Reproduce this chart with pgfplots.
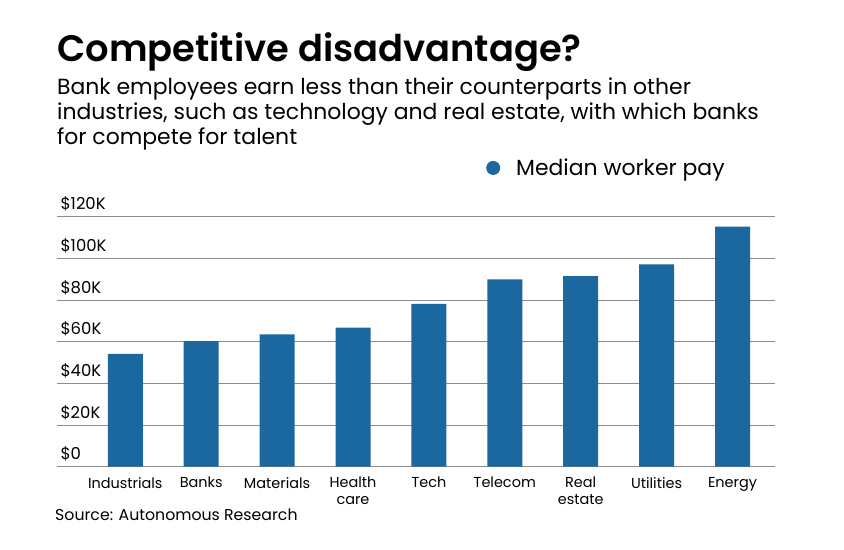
\documentclass[border=0pt]{standalone}
\usepackage{pgfplots}
\pgfplotsset{compat=1.18}
\usepackage{fontspec}
\setmainfont{Poppins}[BoldFont={Poppins SemiBold}]
\definecolor{barblue}{HTML}{1B68A0}
\definecolor{gridgray}{HTML}{8C8C8C}

\begin{document}
\begin{tikzpicture}
\path[use as bounding box] (0bp,0bp) rectangle (844bp,550bp);
% title and subtitle
\node[anchor=base west, inner sep=0pt, font=\fontsize{37}{44}\selectfont\bfseries] at (57bp,488bp) {Competitive disadvantage?};
\node[anchor=base west, inner sep=0pt, font=\fontsize{22}{25}\selectfont] at (57bp,455bp) {Bank employees earn less than their counterparts in other};
\node[anchor=base west, inner sep=0pt, font=\fontsize{22}{25}\selectfont] at (57bp,430bp) {industries, such as technology and real estate, with which banks};
\node[anchor=base west, inner sep=0pt, font=\fontsize{22}{25}\selectfont] at (57bp,405bp) {for compete for talent};

\begin{axis}[
    at={(57bp,83.3bp)}, anchor=south west,
    scale only axis,
    width=718bp, height=250bp,
    ybar, bar width=35bp,
    xmin=-0.9, xmax=8.56,
    ymin=0, ymax=120000,
    axis line style={draw=none},
    major tick length=0pt,
    ymajorgrids,
    grid style={gridgray, line width=1bp},
    ytick={0,20000,40000,60000,80000,100000,120000},
    yticklabels={\$0,\$20K,\$40K,\$60K,\$80K,\$100K,\$120K},
    yticklabel style={anchor=base west, font=\fontsize{16.5}{18}\selectfont, xshift=0bp, yshift=7bp},
    xtick={0,...,8},
    xticklabels={Industrials,Banks,Materials,Health\\care,Tech,Telecom,Real\\estate,Utilities,Energy},
    xticklabel style={font=\fontsize{14.5}{17}\selectfont, align=center, anchor=north, yshift=-7bp},
    scaled y ticks=false,
    legend style={at={(axis description cs:0.5975,1.195)}, anchor=west, draw=none, fill=none,
        inner sep=0pt, column sep=14bp, font=\fontsize{22}{24}\selectfont},
    legend image code/.code={\fill[barblue] (7bp,0bp) circle (7bp);},
]
\addplot[fill=barblue, draw=none] coordinates {
    (0,54100) (1,60300) (2,63500) (3,66700) (4,78100)
    (5,89900) (6,91500) (7,97100) (8,115200)
};
\addlegendentry{Median worker pay}
\end{axis}

\node[anchor=base west, inner sep=0pt, font=\fontsize{15.8}{18}\selectfont] at (55bp,30bp) {Source: Autonomous Research};
\end{tikzpicture}
\end{document}
